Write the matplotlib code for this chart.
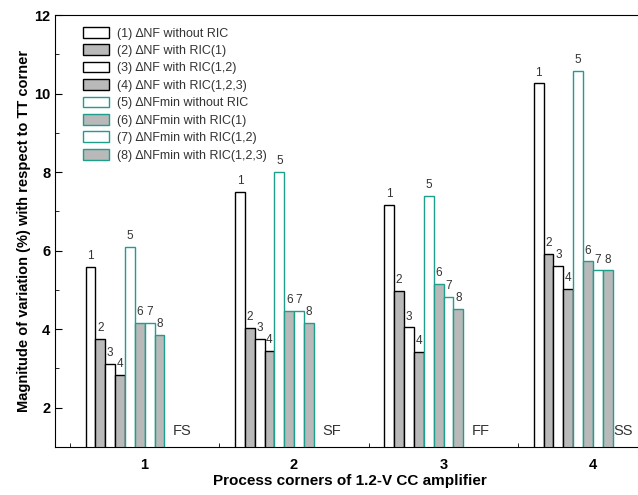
import numpy as np
import matplotlib
matplotlib.use('Agg')
import matplotlib.pyplot as plt
from matplotlib.ticker import MultipleLocator

plt.rcParams['font.family'] = ['Liberation Sans', 'DejaVu Sans']

# =====================================================
# Data: variation (%) per process corner, 8 cases each
# =====================================================
corners = [1, 2, 3, 4]
corner_names = ['FS', 'SF', 'FF', 'SS']

labels = ['(1) \u2206NF without RIC',
          '(2) \u2206NF with RIC(1)',
          '(3) \u2206NF with RIC(1,2)',
          '(4) \u2206NF with RIC(1,2,3)',
          '(5) \u2206NFmin without RIC',
          '(6) \u2206NFmin with RIC(1)',
          '(7) \u2206NFmin with RIC(1,2)',
          '(8) \u2206NFmin with RIC(1,2,3)']

nf_no_ric = [5.58, 7.49, 7.16, 10.26]
nf_ric1 = [3.75, 4.03, 4.97, 5.91]
nf_ric12 = [3.11, 3.75, 4.05, 5.61]
nf_ric123 = [2.83, 3.44, 3.42, 5.02]
nfmin_no_ric = [6.09, 8.00, 7.39, 10.57]
nfmin_ric1 = [4.16, 4.46, 5.15, 5.73]
nfmin_ric12 = [4.16, 4.46, 4.82, 5.50]
nfmin_ric123 = [3.85, 4.16, 4.51, 5.50]

series = [nf_no_ric, nf_ric1, nf_ric12, nf_ric123,
          nfmin_no_ric, nfmin_ric1, nfmin_ric12, nfmin_ric123]

# =====================================================
# Styles
# =====================================================
gray = '#b9b9b9'
teal = '#1f9e8c'
faces = ['white', gray, 'white', gray, 'white', gray, 'white', gray]
edges = ['black', 'black', 'black', 'black', teal, teal, teal, teal]

fig = plt.figure(figsize=(6.38, 4.95), dpi=100)
# axes runs slightly past the right edge, like the cropped original
ax = fig.add_axes([55/638, 48/495, 590/638, 432/495])

w = 0.066
x = np.array(corners, dtype=float)
for i, vals in enumerate(series):
    xi = x - 0.395 + i * w + w / 2
    ax.bar(xi, vals, width=w, color=faces[i], edgecolor=edges[i],
           linewidth=1.0, label=labels[i])
    for xx, v in zip(xi, vals):
        ax.text(xx, v + 0.12, str(i + 1), ha='center', va='bottom',
                fontsize=8.5, color='#333333')

for xx, name in zip(x, corner_names):
    ax.text(min(xx + 0.25, 4.2), 1.4, name, ha='center', va='center',
            fontsize=10.5, color='#333333')

ax.set_xlim(0.4, 4.35)
ax.set_ylim(1, 12)
ax.set_xticks(corners)
ax.xaxis.set_minor_locator(MultipleLocator(0.5))
ax.set_yticks([2, 4, 6, 8, 10, 12])
ax.yaxis.set_minor_locator(MultipleLocator(1))
ax.tick_params(which='both', direction='in', labelsize=10.5)
ax.tick_params(which='major', length=5)
ax.tick_params(which='minor', length=3)
ax.tick_params(axis='x', which='major', length=0, pad=8)
for t in ax.get_xticklabels() + ax.get_yticklabels():
    t.set_fontweight('bold')

ax.set_xlabel('Process corners of 1.2-V CC amplifier', fontsize=11,
              fontweight='bold', labelpad=1)
ax.set_ylabel('Magnitude of variation (%) with respect to TT corner',
              fontsize=10.5, fontweight='bold', labelpad=2)

leg = ax.legend(loc='upper left', bbox_to_anchor=(0.035, 0.99), frameon=False,
                fontsize=9, handlelength=2.1, handleheight=0.95,
                labelspacing=0.38, handletextpad=0.6, borderaxespad=0.2)
for t in leg.get_texts():
    t.set_color('#333333')

plt.savefig('out.png', dpi=100)
